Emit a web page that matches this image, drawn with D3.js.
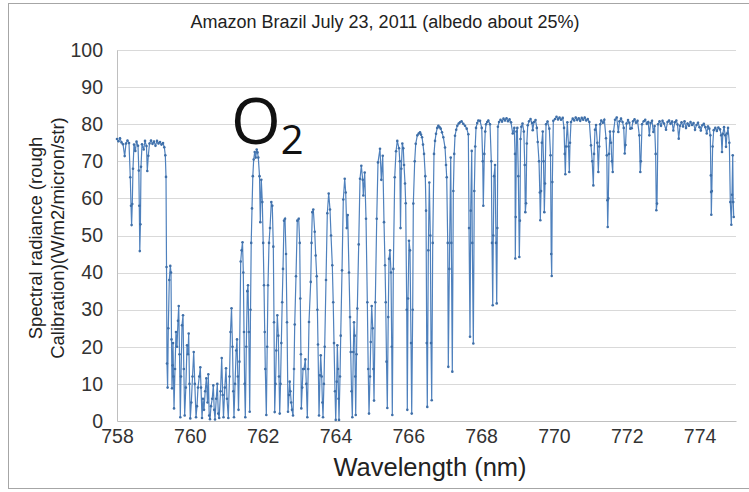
<!DOCTYPE html>
<html lang="en">
<head>
<meta charset="UTF-8">
<title>Amazon Brazil O2 A-band spectrum</title>
<style>
    body { margin: 0; background: #fff; }
    svg { display: block; }
    .tick-label { font-family: 'Liberation Sans', Arial, sans-serif; font-size: 19.5px; fill: #333; }
    .title { font-family: 'Liberation Sans', Arial, sans-serif; font-size: 18px; fill: #222; }
    .axis-title { font-family: 'Liberation Sans', Arial, sans-serif; fill: #222; }
</style>
</head>
<body>
<div id="chart"></div>
<script src="https://d3js.org/d3.v7.min.js"></script>
<script>
// wavelength (nm), radiance pairs, grouped by region
const bandEdge = [
    [758.000,76.0],[758.041,75.4],[758.082,76.2],[758.124,75.1],[758.165,74.6],[758.211,71.4],
    [758.247,74.8],[758.288,75.6],[758.330,74.9],[758.365,65.7],[758.385,58.0],[758.401,52.8],
    [758.420,58.5],[758.439,68.0],[758.467,74.5],[758.503,72.8],[758.536,75.3],[758.577,74.2],
    [758.599,67.5],[758.612,58.0],[758.626,45.8],[758.643,53.0],[758.659,68.5],[758.687,74.6],
    [758.733,73.2],[758.769,75.5],[758.810,74.1],[758.832,67.4],[758.860,71.5],[758.893,74.8],
    [758.934,75.6],[758.975,74.7],[759.016,75.3],[759.057,74.2],[759.099,75.5],[759.140,74.8],
    [759.181,75.2],[759.222,74.5],[759.264,74.9],[759.299,73.8],[759.327,71.6],[759.346,65.8]
];
const rBranch = [
    [759.360,41.5],[759.373,15.5],[759.390,9.0],[759.409,25.0],[759.436,38.0],[759.464,41.8],
    [759.483,40.0],[759.497,22.0],[759.511,8.8],[759.527,15.0],[759.538,21.0],[759.552,12.0],
    [759.566,3.4],[759.593,14.0],[759.620,24.0],[759.648,20.0],[759.675,27.0],[759.695,31.0],
    [759.717,18.0],[759.739,1.0],[759.758,12.0],[759.785,25.8],[759.813,28.5],[759.835,14.0],
    [759.859,1.5],[759.890,9.0],[759.923,20.4],[759.950,18.0],[759.969,23.6],[759.991,10.0],
    [760.013,0.7],[760.041,5.0],[760.074,12.0],[760.107,18.6],[760.137,10.0],[760.170,1.0],
    [760.197,4.0],[760.225,9.0],[760.260,12.0],[760.288,14.5],[760.307,9.0],[760.335,0.8],
    [760.362,6.0],[760.389,3.0],[760.422,8.0],[760.453,11.5],[760.486,5.0],[760.508,12.6],
    [760.532,1.5],[760.554,0.5],[760.582,4.0],[760.615,6.0],[760.645,9.6],[760.670,3.0],
    [760.692,0.4],[760.725,6.0],[760.755,10.0],[760.782,2.0],[760.807,0.8],[760.843,8.0],
    [760.876,17.0],[760.903,7.0],[760.925,1.0],[760.961,9.0],[760.994,14.2],[761.021,6.0],
    [761.057,0.8],[761.090,12.0],[761.117,24.0],[761.145,30.4],[761.172,20.0],[761.194,8.0],
    [761.213,1.0],[761.241,10.0],[761.274,19.0],[761.296,22.0],[761.318,12.0],[761.337,3.0],
    [761.364,16.0],[761.397,43.0],[761.422,46.0],[761.447,48.2],[761.469,40.0],[761.488,24.0],
    [761.505,10.0],[761.524,1.0],[761.551,20.0],[761.579,35.0],[761.598,36.6],[761.620,24.0],
    [761.645,2.5],[761.667,30.0],[761.686,48.0],[761.708,57.3],[761.730,66.0],[761.754,70.5],
    [761.782,72.5],[761.809,71.0],[761.837,73.2],[761.859,72.4],[761.881,71.0]
];
const pBranch = [
    [761.914,66.0],[761.936,53.6],[761.963,65.0],[761.991,59.0],[762.015,48.0],[762.037,36.6],
    [762.057,24.0],[762.073,14.0],[762.101,1.6],[762.125,20.0],[762.147,36.6],[762.175,48.0],
    [762.202,52.0],[762.238,59.0],[762.265,58.0],[762.293,47.0],[762.312,26.6],[762.331,2.4],
    [762.353,10.0],[762.375,19.0],[762.403,28.5],[762.430,23.0],[762.449,12.0],[762.469,2.0],
    [762.491,10.0],[762.513,21.0],[762.537,32.0],[762.559,41.0],[762.587,54.0],[762.614,54.5],
    [762.642,45.0],[762.669,26.6],[762.697,2.5],[762.724,7.0],[762.743,10.6],[762.762,8.0],
    [762.784,5.0],[762.806,3.0],[762.834,1.5],[762.861,14.0],[762.881,26.0],[762.916,39.0],
    [762.952,54.0],[762.990,54.5],[763.018,48.0],[763.034,33.0],[763.051,18.0],[763.062,3.4],
    [763.087,9.0],[763.109,14.0],[763.136,14.0],[763.172,16.6],[763.199,10.0],[763.227,1.0],
    [763.251,14.0],[763.273,26.7],[763.320,37.5],[763.342,48.0],[763.364,56.3],[763.391,57.0],
    [763.430,51.0],[763.457,44.6],[763.485,39.0],[763.504,30.0],[763.520,20.6],[763.548,1.5],
    [763.575,12.3],[763.595,17.7],[763.622,12.0],[763.641,5.0],[763.658,1.0],[763.683,10.0],
    [763.704,20.0],[763.740,38.0],[763.776,56.0],[763.814,61.3],[763.850,57.0],[763.878,50.0],
    [763.913,42.0],[763.938,32.0],[763.960,21.0],[763.987,8.0],[764.007,0.3],[764.034,10.6],
    [764.051,20.4],[764.070,14.0],[764.084,6.0],[764.097,0.3],[764.125,12.0],[764.144,23.0],
    [764.180,40.6],[764.215,59.7],[764.254,65.3],[764.281,61.6],[764.309,52.0],[764.336,55.5],
    [764.372,40.0],[764.399,28.0],[764.419,18.6],[764.441,8.0],[764.463,1.0],[764.490,18.6],
    [764.509,26.6],[764.528,23.0],[764.542,12.0],[764.556,1.6],[764.578,18.0],[764.600,30.3],
    [764.638,47.6],[764.674,65.3],[764.710,68.8],[764.748,65.0],[764.765,60.8],[764.803,67.0],
    [764.839,54.5],[764.875,32.0],[764.899,14.0],[764.921,2.0],[764.949,12.0],[764.968,21.3],
    [764.995,31.0],[765.023,25.0],[765.042,14.0],[765.059,5.5],[765.094,32.0],[765.133,54.5],
    [765.168,69.7],[765.223,73.4],[765.259,65.0],[765.298,71.5],[765.333,53.6],[765.361,42.0],
    [765.380,32.0],[765.402,16.0],[765.424,3.5],[765.449,28.0],[765.471,43.7],[765.498,46.0],
    [765.525,40.0],[765.545,20.0],[765.561,1.6],[765.589,41.0],[765.627,65.7],[765.663,72.7],
    [765.698,75.5],[765.745,73.5],[765.767,70.0],[765.786,52.0],[765.808,68.0],[765.836,74.8],
    [765.863,73.5],[765.882,69.0],[765.910,64.0],[765.929,58.7],[765.957,30.0],[765.973,3.0],
    [765.992,33.0],[766.020,48.6],[766.047,46.0],[766.075,21.0],[766.094,2.0],[766.121,30.0],
    [766.138,58.6],[766.176,70.0],[766.204,74.7],[766.248,77.0],[766.286,77.5],[766.322,77.8],
    [766.349,77.2],[766.377,76.5],[766.404,74.5],[766.432,72.0],[766.467,66.0],[766.487,56.7],
    [766.506,21.0],[766.522,3.8],[766.550,46.0],[766.577,64.3],[766.605,50.0],[766.624,21.0],
    [766.643,5.6],[766.671,48.0],[766.706,72.0],[766.734,75.5],[766.761,77.4],[766.794,79.0],
    [766.825,79.6],[766.857,79.2],[766.890,78.8],[766.926,77.8],[766.962,76.5],[767.009,73.7],
    [767.036,69.0],[767.055,65.7],[767.083,48.0],[767.099,14.6],[767.127,41.0],[767.165,71.0],
    [767.182,48.0],[767.209,13.3],[767.237,62.0],[767.261,72.0],[767.283,76.9],[767.316,78.5],
    [767.346,79.6],[767.385,80.2],[767.421,80.5],[767.462,80.8],[767.511,80.1],[767.558,79.6],
    [767.605,78.8],[767.649,77.3],[767.668,52.0],[767.695,22.7],[767.714,56.7],[767.742,72.8],
    [767.758,48.0],[767.786,20.9],[767.813,62.0],[767.838,74.0],[767.860,79.0],[767.893,80.3],
    [767.923,81.0],[767.970,80.9],[768.017,79.0],[768.044,70.0],[768.060,58.0],[768.088,72.0],
    [768.113,78.0],[768.135,80.0],[768.168,80.6],[768.198,81.0],[768.244,80.0],[768.280,70.0],
    [768.299,48.0],[768.319,31.2],[768.335,50.0],[768.354,66.0],[768.382,69.0],[768.409,48.0],
    [768.428,31.7],[768.445,52.0],[768.461,79.3]
];
const continuum = [
    [768.492,80.6],[768.533,81.2],[768.574,80.7],[768.615,81.5],[768.656,81.0],[768.698,81.6],
    [768.739,80.8],[768.780,81.3],[768.821,80.5],[768.868,77.5],[768.912,79.0],[768.931,72.0],
    [768.939,43.8],[768.950,55.0],[768.972,78.0],[768.994,79.0],[769.022,66.0],[769.049,44.2],
    [769.066,54.0],[769.082,76.0],[769.104,79.3],[769.137,80.2],[769.173,78.0],[769.198,69.0],
    [769.214,56.3],[769.233,58.7],[769.255,74.8],[769.280,79.7],[769.316,80.8],[769.357,81.4],
    [769.398,80.3],[769.417,78.4],[769.453,80.6],[769.494,81.1],[769.530,79.0],[769.555,75.2],
    [769.590,70.0],[769.612,61.6],[769.626,54.1],[769.645,62.0],[769.667,75.0],[769.692,78.0],
    [769.714,70.0],[769.736,56.3],[769.755,64.0],[769.783,80.0],[769.824,80.7],[769.873,78.8],
    [769.906,71.6],[769.925,45.0],[769.939,39.1],[769.956,64.4],[769.983,80.9],[770.030,81.4],
    [770.071,82.0],[770.112,81.3],[770.153,81.8],[770.195,81.2],[770.241,81.7],[770.277,79.0],
    [770.296,72.0],[770.313,66.5],[770.332,74.0],[770.368,80.5],[770.400,74.0],[770.422,67.1],
    [770.442,75.0],[770.469,80.6],[770.516,81.5],[770.557,81.0],[770.598,81.8],[770.639,81.1],
    [770.681,81.6],[770.722,80.9],[770.763,81.7],[770.804,81.2],[770.845,81.8],[770.887,81.0],
    [770.928,81.4],[770.972,80.6],[771.018,74.3],[771.051,70.0],[771.082,63.5],[771.101,72.0],
    [771.128,78.5],[771.156,79.8],[771.191,75.0],[771.219,67.1],[771.244,74.0],[771.271,80.0],
    [771.299,81.0],[771.343,80.4],[771.384,81.2],[771.430,76.2],[771.452,71.6],[771.466,59.5],
    [771.477,52.3],[771.494,60.0],[771.513,72.0],[771.540,78.0],[771.568,75.0],[771.590,70.0],
    [771.614,67.1],[771.636,78.0],[771.678,81.2],[771.724,81.8],[771.768,77.9],[771.801,80.8],
    [771.842,81.5],[771.884,80.6],[771.917,79.0],[771.944,72.1],[771.966,74.4],[771.993,80.2],
    [772.035,81.1],[772.070,80.4],[772.098,78.8],[772.136,78.9],[772.172,80.8],[772.213,81.3],
    [772.254,80.4],[772.296,80.9],[772.345,77.0],[772.372,67.1],[772.389,70.0],[772.419,80.0],
    [772.466,80.8],[772.507,81.2],[772.551,80.1],[772.589,80.6],[772.620,77.0],[772.653,80.3],
    [772.694,80.9],[772.730,77.9],[772.765,79.5],[772.793,72.0],[772.812,56.8],[772.831,58.6],
    [772.859,80.0],[772.900,80.8],[772.941,79.6],[772.982,80.9],[773.023,80.2],[773.078,78.5],
    [773.120,80.6],[773.161,81.0],[773.202,80.1],[773.243,80.7],[773.279,78.3],[773.320,80.5],
    [773.361,81.0],[773.394,79.9],[773.427,76.1],[773.463,79.6],[773.504,80.5],[773.545,79.4],
    [773.586,80.8],[773.628,79.0],[773.669,80.2],[773.710,79.6],[773.751,80.6],[773.792,79.8],
    [773.834,80.3],[773.875,78.5],[773.916,79.8],[773.957,80.4],[773.998,79.2],[774.034,78.3],
    [774.075,79.7],[774.116,80.1],[774.158,79.2],[774.196,77.5],[774.232,79.4],[774.268,78.8],
    [774.295,77.0],[774.309,66.2],[774.317,61.7],[774.322,55.6],[774.336,62.0],[774.358,74.0],
    [774.388,78.4],[774.432,79.0],[774.474,78.2],[774.515,79.1],[774.561,78.6],[774.594,77.0],
    [774.616,72.5],[774.638,77.4],[774.671,79.2],[774.704,77.0],[774.726,73.9],[774.754,77.5],
    [774.781,79.0],[774.817,75.0],[774.844,59.0],[774.872,52.9],[774.891,61.0],[774.910,71.6],
    [774.924,59.0],[774.938,55.0]
];
const xTicks = [758, 760, 762, 764, 766, 768, 770, 772, 774];
const yTicks = [0, 10, 20, 30, 40, 50, 60, 70, 80, 90, 100];

const spectrum = bandEdge.concat(rBranch, pBranch, continuum);

const W = 749, H = 492;
const margin = { top: 50, right: 13, bottom: 71, left: 117 };
const width = W - margin.left - margin.right;
const height = H - margin.top - margin.bottom;

const svg = d3.select("#chart").append("svg")
    .attr("width", W)
    .attr("height", H);

// chart frame
svg.append("rect")
    .attr("x", 8.5).attr("y", 3.5)
    .attr("width", 760).attr("height", 485)
    .attr("fill", "none")
    .attr("stroke", "#a6a6a6");

const g = svg.append("g")
    .attr("transform", `translate(${margin.left},${margin.top})`);

const x = d3.scaleLinear().domain([758, 775]).range([0, width]);
const y = d3.scaleLinear().domain([0, 100]).range([height, 0]);

// gridlines
g.append("g")
    .selectAll("line")
    .data(yTicks.filter(d => d > 0))
    .enter().append("line")
    .attr("x1", 0).attr("x2", width)
    .attr("y1", d => Math.round(y(d)) + 0.5).attr("y2", d => Math.round(y(d)) + 0.5)
    .attr("stroke", "#d9d9d9");

// axes
const yAxis = g.append("g")
    .call(d3.axisLeft(y).tickValues(yTicks).tickSize(0).tickPadding(14));
yAxis.select(".domain").attr("stroke", "#bfbfbf");
yAxis.selectAll("text").attr("class", "tick-label");

const xAxis = g.append("g")
    .attr("transform", `translate(0,${height})`)
    .call(d3.axisBottom(x).tickValues(xTicks).tickSize(0).tickPadding(8));
xAxis.select(".domain").attr("stroke", "#bfbfbf");
xAxis.selectAll("text").attr("class", "tick-label");

// spectrum line and markers
const line = d3.line().x(d => x(d[0])).y(d => y(d[1]));
g.append("path")
    .datum(spectrum)
    .attr("fill", "none")
    .attr("stroke", "#4f81bd")
    .attr("stroke-width", 1.2)
    .attr("d", line);

g.append("g")
    .selectAll("circle")
    .data(spectrum)
    .enter().append("circle")
    .attr("cx", d => x(d[0]))
    .attr("cy", d => y(d[1]))
    .attr("r", 1.3)
    .attr("fill", "#3f6fa8");

// titles
svg.append("text")
    .attr("class", "title")
    .attr("x", 385).attr("y", 28)
    .attr("text-anchor", "middle")
    .text("Amazon Brazil July 23, 2011 (albedo about 25%)");

svg.append("text")
    .attr("class", "axis-title")
    .attr("x", 430).attr("y", 476)
    .attr("text-anchor", "middle")
    .style("font-size", "25.5px")
    .text("Wavelength (nm)");

const yTitle = svg.append("text")
    .attr("class", "axis-title")
    .attr("transform", "translate(42,238) rotate(-90)")
    .attr("text-anchor", "middle")
    .style("font-size", "18.5px");
yTitle.append("tspan").attr("x", 0).attr("dy", 0).text("Spectral radiance (rough");
yTitle.append("tspan").attr("x", 0).attr("dy", 22).text("Calibration)(W/m2/micron/str)");

// O2 label
const o2 = svg.append("text")
    .attr("x", 231).attr("y", 144)
    .style("font-family", "'Open Sans', 'Noto Sans', sans-serif")
    .style("fill", "#111");
o2.append("tspan").style("font-size", "64px").text("O");
o2.append("tspan").style("font-size", "40px").attr("dy", 10).text("2");
</script>
</body>
</html>
